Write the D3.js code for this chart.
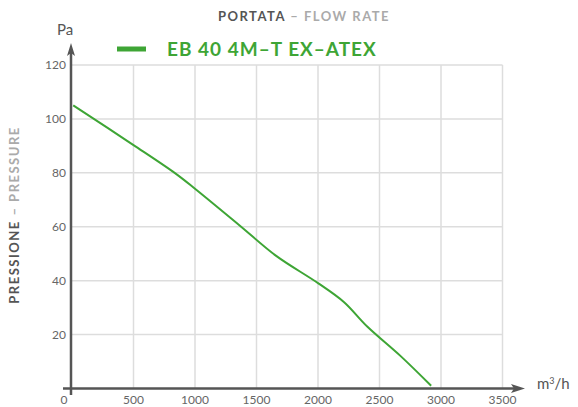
<!DOCTYPE html>
<html lang="en">
<head>
    <meta charset="UTF-8">
    <title>EB 40 4M-T EX-ATEX</title>
    <style>
        body {
            margin: 0;
            background-color: #fff;
            font-family: Lato, "Open Sans", sans-serif;
        }
        .tick-label {
            font-size: 12px;
            fill: #666;
        }
    </style>
    <script src="https://d3js.org/d3.v7.min.js"></script>
</head>
<body>
    <div id="chart"></div>
    <script>
        // Curve
        const flow = [10, 500, 840, 1000, 1370, 1660, 2000, 2210, 2400, 2670, 2920];
        const pressure = [105, 90.3, 79.8, 74.1, 60.2, 49.2, 39.1, 32.1, 23, 12.1, 1];
        const xTicks = [500, 1000, 1500, 2000, 2500, 3000, 3500];
        const yTicks = [20, 40, 60, 80, 100, 120];
        const seriesName = 'EB 40 4M\u2013T EX\u2013ATEX';

        const width = 578;
        const height = 407;
        const green = '#3ea535';
        const axisColor = '#555';

        const x = d3.scaleLinear().domain([0, 3500]).range([72, 502.5]);
        const y = d3.scaleLinear().domain([0, 120]).range([388.5, 65]);

        const svg = d3.select('#chart').append('svg')
            .attr('width', width)
            .attr('height', height);

        // grid
        svg.append('g')
            .selectAll('line')
            .data(xTicks)
            .enter().append('line')
            .attr('x1', d => x(d)).attr('x2', d => x(d))
            .attr('y1', y(120)).attr('y2', y(0))
            .attr('stroke', '#ddd')
            .attr('stroke-width', 1.5);

        svg.append('g')
            .selectAll('line')
            .data(yTicks)
            .enter().append('line')
            .attr('x1', x(0)).attr('x2', x(3500))
            .attr('y1', d => y(d)).attr('y2', d => y(d))
            .attr('stroke', '#ddd')
            .attr('stroke-width', 1.5);

        // tick labels
        svg.append('g')
            .selectAll('text')
            .data(xTicks)
            .enter().append('text')
            .attr('class', 'tick-label')
            .attr('x', d => x(d))
            .attr('y', 404)
            .attr('text-anchor', 'middle')
            .text(d => d);

        svg.append('text')
            .attr('class', 'tick-label')
            .attr('x', x(0) - 8)
            .attr('y', 404)
            .attr('text-anchor', 'middle')
            .text('0');

        svg.append('g')
            .selectAll('text')
            .data(yTicks)
            .enter().append('text')
            .attr('class', 'tick-label')
            .attr('x', 66)
            .attr('y', d => y(d))
            .attr('dy', '0.35em')
            .attr('text-anchor', 'end')
            .text(d => d);

        // axes with arrows
        svg.append('line')
            .attr('x1', x(0) - 1).attr('x2', x(0) - 1)
            .attr('y1', 395).attr('y2', 52)
            .attr('stroke', axisColor)
            .attr('stroke-width', 2.5);
        svg.append('path')
            .attr('d', `M${x(0) - 1},43 L${x(0) - 5},56 L${x(0) - 1},53 L${x(0) + 3},56 Z`)
            .attr('fill', axisColor);

        svg.append('line')
            .attr('x1', 63).attr('x2', 515)
            .attr('y1', y(0)).attr('y2', y(0))
            .attr('stroke', axisColor)
            .attr('stroke-width', 2.5);
        svg.append('path')
            .attr('d', `M525,${y(0)} L511,${y(0) - 4.5} L514,${y(0)} L511,${y(0) + 4.5} Z`)
            .attr('fill', axisColor);

        // units
        svg.append('text')
            .attr('x', 65).attr('y', 35)
            .attr('text-anchor', 'middle')
            .attr('font-size', 15)
            .attr('fill', '#555')
            .text('Pa');

        const unit = svg.append('text')
            .attr('x', 537).attr('y', 389)
            .attr('font-size', 15)
            .attr('fill', '#555');
        unit.append('tspan').text('m');
        unit.append('tspan').attr('font-size', 9).attr('dy', -5).text('3');
        unit.append('tspan').attr('dy', 5).text('/h');

        // axis titles
        const title = svg.append('text')
            .attr('x', 304).attr('y', 21)
            .attr('text-anchor', 'middle')
            .attr('font-size', 13)
            .attr('font-weight', 'bold')
            .attr('letter-spacing', 1.5);
        title.append('tspan').attr('fill', '#555').text('PORTATA');
        title.append('tspan').attr('fill', '#aaa').text(' \u2013 FLOW RATE');

        const ytitle = svg.append('text')
            .attr('transform', 'translate(19,215) rotate(-90)')
            .attr('text-anchor', 'middle')
            .attr('font-size', 13)
            .attr('font-weight', 'bold')
            .attr('letter-spacing', 1.5);
        ytitle.append('tspan').attr('fill', '#555').text('PRESSIONE');
        ytitle.append('tspan').attr('fill', '#aaa').text(' \u2013 PRESSURE');

        // legend
        svg.append('line')
            .attr('x1', 117).attr('x2', 146)
            .attr('y1', 49).attr('y2', 49)
            .attr('stroke', green)
            .attr('stroke-width', 5);
        svg.append('text')
            .attr('x', 167).attr('y', 49)
            .attr('dy', '0.36em')
            .attr('font-size', 19)
            .attr('font-weight', 'bold')
            .attr('letter-spacing', 1)
            .attr('fill', green)
            .text(seriesName);

        // curve
        const points = flow.map((q, i) => [q, pressure[i]]);
        const line = d3.line()
            .x(d => x(d[0]))
            .y(d => y(d[1]))
            .curve(d3.curveCatmullRom.alpha(0.5));

        svg.append('path')
            .datum(points)
            .attr('d', line)
            .attr('fill', 'none')
            .attr('stroke', green)
            .attr('stroke-width', 2);
    </script>
</body>
</html>
